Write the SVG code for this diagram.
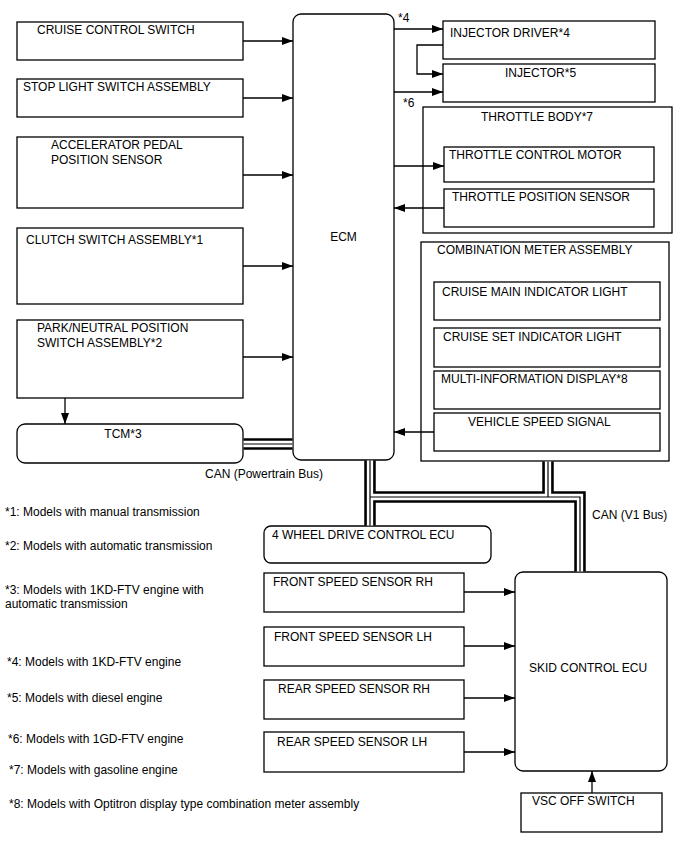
<svg xmlns="http://www.w3.org/2000/svg" width="688" height="852" viewBox="0 0 688 852">
<defs>
<marker id="ah" markerUnits="userSpaceOnUse" markerWidth="12" markerHeight="10" refX="11" refY="4" orient="auto">
<path d="M0,0 L11,4 L0,8 Z" fill="#000"/>
</marker>
<style>
.b{fill:#fff;stroke:#000;stroke-width:1.3}
.t{font-family:"Liberation Sans",Arial,sans-serif;font-size:12px;fill:#000}
.c{fill:none;stroke:#000;stroke-width:1.3}
.a{fill:none;stroke:#000;stroke-width:1.3;marker-end:url(#ah)}
.bo{fill:none;stroke:#000;stroke-width:11.5;stroke-linejoin:miter}
.bw{fill:none;stroke:#fff;stroke-width:6.3;stroke-linejoin:miter}
.bc{fill:none;stroke:#000;stroke-width:1.2;stroke-linejoin:miter}
</style>
</defs>
<rect width="688" height="852" fill="#fff"/>

<g id="cruise-control-switch"><rect class="b" x="17" y="22" width="226" height="38"/><text class="t" x="37" y="34">CRUISE CONTROL SWITCH</text></g>
<g id="stop-light-switch"><rect class="b" x="17" y="79" width="226" height="38"/><text class="t" x="23" y="91">STOP LIGHT SWITCH ASSEMBLY</text></g>
<g id="accelerator-pedal-sensor"><rect class="b" x="17" y="137" width="226" height="71"/><text class="t" x="51" y="149">ACCELERATOR PEDAL</text><text class="t" x="51" y="164">POSITION SENSOR</text></g>
<g id="clutch-switch"><rect class="b" x="17" y="228" width="226" height="76"/><text class="t" x="26" y="244">CLUTCH SWITCH ASSEMBLY*1</text></g>
<g id="park-neutral-switch"><rect class="b" x="17" y="320" width="226" height="78"/><text class="t" x="37" y="332">PARK/NEUTRAL POSITION</text><text class="t" x="37" y="347">SWITCH ASSEMBLY*2</text></g>
<g id="tcm"><rect class="b" x="17" y="424" width="226" height="39" rx="8"/><text class="t" x="123" y="438" text-anchor="middle">TCM*3</text></g>

<g id="ecm"><rect class="b" x="293" y="14" width="101" height="446" rx="8"/><text class="t" x="343.5" y="241" text-anchor="middle">ECM</text></g>

<g id="injector-driver"><rect class="b" x="443" y="21" width="212" height="38"/><text class="t" x="450" y="37">INJECTOR DRIVER*4</text></g>
<g id="injector"><rect class="b" x="443" y="64" width="212" height="38"/><text class="t" x="505" y="77">INJECTOR*5</text></g>

<g id="throttle-body"><rect class="b" x="423" y="107" width="249" height="126"/><text class="t" x="481" y="121">THROTTLE BODY*7</text>
<g id="throttle-control-motor"><rect class="b" x="444" y="147" width="210" height="35"/><text class="t" x="449" y="159">THROTTLE CONTROL MOTOR</text></g>
<g id="throttle-position-sensor"><rect class="b" x="444" y="189" width="210" height="38"/><text class="t" x="452" y="201">THROTTLE POSITION SENSOR</text></g>
</g>

<g id="combination-meter"><rect class="b" x="421" y="242" width="248" height="219"/><text class="t" x="437" y="254">COMBINATION METER ASSEMBLY</text>
<g id="cruise-main-indicator"><rect class="b" x="434" y="282" width="226" height="38"/><text class="t" x="442" y="296">CRUISE MAIN INDICATOR LIGHT</text></g>
<g id="cruise-set-indicator"><rect class="b" x="434" y="328" width="226" height="39"/><text class="t" x="443" y="341">CRUISE SET INDICATOR LIGHT</text></g>
<g id="multi-information-display"><rect class="b" x="434" y="371" width="226" height="38"/><text class="t" x="441" y="383">MULTI-INFORMATION DISPLAY*8</text></g>
<g id="vehicle-speed-signal"><rect class="b" x="434" y="413" width="226" height="38"/><text class="t" x="468" y="426">VEHICLE SPEED SIGNAL</text></g>
</g>

<g id="four-wheel-drive-ecu"><rect class="b" x="264" y="526" width="227" height="37" rx="7"/><text class="t" x="272" y="539">4 WHEEL DRIVE CONTROL ECU</text></g>
<g id="front-speed-sensor-rh"><rect class="b" x="264" y="573" width="200" height="39"/><text class="t" x="273" y="586">FRONT SPEED SENSOR RH</text></g>
<g id="front-speed-sensor-lh"><rect class="b" x="264" y="627" width="200" height="39"/><text class="t" x="274" y="641">FRONT SPEED SENSOR LH</text></g>
<g id="rear-speed-sensor-rh"><rect class="b" x="264" y="680" width="200" height="39"/><text class="t" x="278" y="693">REAR SPEED SENSOR RH</text></g>
<g id="rear-speed-sensor-lh"><rect class="b" x="264" y="732" width="200" height="40"/><text class="t" x="277" y="746">REAR SPEED SENSOR LH</text></g>
<g id="skid-control-ecu"><rect class="b" x="515" y="572" width="152" height="199" rx="8"/><text class="t" x="588" y="672" text-anchor="middle">SKID CONTROL ECU</text></g>
<g id="vsc-off-switch"><rect class="b" x="521" y="793" width="141" height="39"/><text class="t" x="532" y="805">VSC OFF SWITCH</text></g>

<g id="connectors">
<path class="a" d="M243,41 H293"/>
<path class="a" d="M243,98 H293"/>
<path class="a" d="M243,175 H293"/>
<path class="a" d="M243,266 H293"/>
<path class="a" d="M243,357 H293"/>
<path class="a" d="M65,398 V424"/>
<path class="a" d="M394,29 H443"/>
<path class="a" d="M394,92 H443"/>
<path class="a" d="M443,45 H417 V74 H443"/>
<path class="a" d="M394,166 H444"/>
<path class="a" d="M444,208 H394"/>
<path class="a" d="M434,432 H394"/>
<path class="a" d="M464,592 H515"/>
<path class="a" d="M464,646 H515"/>
<path class="a" d="M464,698 H515"/>
<path class="a" d="M464,752 H515"/>
<path class="a" d="M592,793 V771"/>
<g id="can-buses">
<path class="bo" d="M243.6,444 H292.4"/>
<path class="bo" d="M370,460.6 V525.4 M370,497 H580 V571.4 M548,461.6 V497"/>
<path class="bw" d="M243.6,444 H292.4"/>
<path class="bw" d="M370,460.6 V525.4 M370,497 H580 V571.4 M548,461.6 V497"/>
<path class="bc" d="M243.6,444 H292.4"/>
<path class="bc" d="M370,460.6 V525.4 M370,497 H580 V571.4 M548,461.6 V497"/>
</g>
</g>

<g id="labels">
<text class="t" x="398" y="22">*4</text>
<text class="t" x="403" y="107">*6</text>
<text class="t" x="205" y="478">CAN (Powertrain Bus)</text>
<text class="t" x="592" y="519">CAN (V1 Bus)</text>
<text class="t" x="5" y="516">*1: Models with manual transmission</text>
<text class="t" x="5" y="550">*2: Models with automatic transmission</text>
<text class="t" x="5" y="594">*3: Models with 1KD-FTV engine with</text>
<text class="t" x="5" y="608">automatic transmission</text>
<text class="t" x="7" y="666">*4: Models with 1KD-FTV engine</text>
<text class="t" x="7" y="702">*5: Models with diesel engine</text>
<text class="t" x="8" y="743">*6: Models with 1GD-FTV engine</text>
<text class="t" x="9" y="774">*7: Models with gasoline engine</text>
<text class="t" x="9" y="808">*8: Models with Optitron display type combination meter assembly</text>
</g>
</svg>
